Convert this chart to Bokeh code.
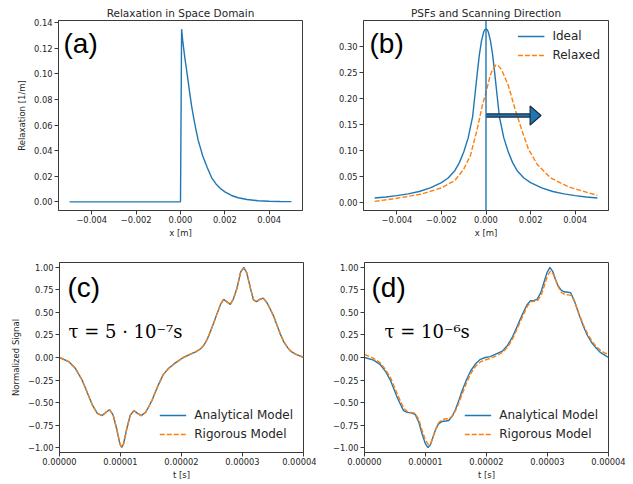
from bokeh.plotting import figure
from bokeh.models import Range1d, FixedTicker, Span, Label
from bokeh.layouts import column, row
from bokeh.embed import file_html
from bokeh.resources import INLINE

# ---------------- data ----------------
# (a) relaxation kernel in space domain
relax_x = [-0.005, -0.0001, 0.0, 0.00005, 0.0001, 0.0002, 0.0003, 0.0004, 0.0005,
           0.0006, 0.0007, 0.0008, 0.0009, 0.001, 0.0012, 0.0014, 0.0016, 0.0018,
           0.002, 0.0023, 0.0026, 0.003, 0.0035, 0.004, 0.0045, 0.005]
relax_y = [0.0, 0.0, 0.0, 0.135, 0.126, 0.112, 0.100, 0.087, 0.075,
           0.065, 0.056, 0.048, 0.042, 0.036, 0.027, 0.019, 0.014, 0.0105,
           0.0078, 0.0050, 0.0032, 0.0018, 0.0009, 0.0005, 0.0003, 0.0002]

# (b) PSFs
ideal_x = [-0.005, -0.0045, -0.004, -0.0035, -0.003, -0.0025, -0.002, -0.0017, -0.0014,
           -0.0012, -0.001, -0.0008, -0.0006, -0.0005, -0.0004, -0.0003, -0.0002, -0.0001,
           -0.00005, 0.0, 0.00005, 0.0001, 0.0002, 0.0003, 0.0004, 0.0005, 0.0006, 0.0008,
           0.001, 0.0012, 0.0014, 0.0017, 0.002, 0.0025, 0.003, 0.0035, 0.004, 0.0045, 0.005]
ideal_y = [0.0085, 0.0105, 0.013, 0.0165, 0.021, 0.028, 0.038, 0.047, 0.061,
           0.076, 0.097, 0.124, 0.165, 0.205, 0.245, 0.283, 0.311, 0.328,
           0.332, 0.333, 0.332, 0.328, 0.311, 0.283, 0.245, 0.205, 0.165, 0.124,
           0.097, 0.076, 0.061, 0.047, 0.038, 0.028, 0.021, 0.0165, 0.013, 0.0105, 0.0085]
relaxed_x = [-0.005, -0.004, -0.0029, -0.002, -0.0014, -0.001, -0.0007, -0.0004, -0.00015,
             0.0, 0.0001, 0.0002, 0.0003, 0.00045, 0.00055, 0.0007, 0.001, 0.0013,
             0.0016, 0.0019, 0.0023, 0.0029, 0.0037, 0.005]
relaxed_y = [0.002, 0.008, 0.016, 0.028, 0.042, 0.064, 0.090, 0.140, 0.189,
             0.211, 0.229, 0.245, 0.256, 0.264, 0.263, 0.255, 0.225, 0.180,
             0.140, 0.103, 0.073, 0.047, 0.030, 0.0135]

# (c) tau = 5e-7 s
t_c = [0.0, 1.5, 2.6, 3.7, 4.5, 5.4, 6.2, 7.0, 7.6, 8.2, 8.8, 9.4, 9.9, 10.2, 10.5,
       11.0, 11.6, 12.2, 12.8, 13.4, 14.1, 14.6, 15.2, 15.8, 16.3, 17.0, 17.9, 19.0,
       20.3, 21.4, 22.4, 23.2, 23.7, 24.2, 24.75, 25.3, 25.85, 26.4, 26.9, 27.4, 28.0,
       28.5, 29.1, 29.7, 30.2, 30.7, 31.3, 31.8, 32.3, 32.8, 33.4, 34.0, 34.6, 35.1,
       35.7, 36.2, 36.8, 37.4, 37.9, 38.6, 39.3, 40.0]
analytic_c = [0.0, -0.045, -0.12, -0.25, -0.38, -0.53, -0.62, -0.645, -0.61, -0.58, -0.64,
              -0.80, -0.96, -1.00, -0.96, -0.80, -0.64, -0.59, -0.62, -0.645, -0.61, -0.55,
              -0.47, -0.37, -0.29, -0.19, -0.12, -0.06, 0.0, 0.035, 0.065, 0.10, 0.14, 0.20,
              0.29, 0.39, 0.49, 0.59, 0.645, 0.62, 0.59, 0.65, 0.77, 0.95, 1.00, 0.94, 0.77,
              0.64, 0.62, 0.645, 0.66, 0.61, 0.53, 0.46, 0.35, 0.26, 0.17, 0.11, 0.07, 0.04,
              0.02, 0.0]
rigorous_c = [0.0, -0.045, -0.12, -0.25, -0.38, -0.53, -0.62, -0.645, -0.61, -0.58, -0.64,
              -0.80, -0.96, -0.995, -0.96, -0.80, -0.64, -0.59, -0.62, -0.645, -0.61, -0.55,
              -0.47, -0.37, -0.29, -0.19, -0.12, -0.06, 0.0, 0.035, 0.065, 0.10, 0.14, 0.20,
              0.29, 0.39, 0.49, 0.59, 0.645, 0.62, 0.59, 0.65, 0.77, 0.95, 0.995, 0.94, 0.77,
              0.64, 0.62, 0.645, 0.66, 0.61, 0.53, 0.46, 0.35, 0.26, 0.17, 0.11, 0.07, 0.04,
              0.02, 0.005]

# (d) tau = 1e-6 s
t_d = [0.0, 1.5, 2.6, 3.5, 4.3, 5.4, 6.4, 7.0, 7.6, 8.3, 8.9, 9.5, 10.0, 10.4, 10.8,
       11.2, 11.6, 12.1, 12.7, 13.3, 13.8, 14.4, 14.9, 15.5, 16.0, 16.7, 17.4, 18.2,
       19.0, 19.8, 20.6, 21.6, 22.6, 23.4, 24.2, 25.0, 25.85, 26.6, 27.2, 27.8, 28.3,
       28.9, 29.4, 29.9, 30.4, 30.9, 31.3, 31.7, 32.2, 32.7, 33.3, 33.8, 34.4, 35.1,
       35.8, 36.5, 37.2, 37.9, 38.6, 39.3, 40.0]
analytic_d = [0.0, -0.03, -0.08, -0.16, -0.26, -0.45, -0.59, -0.61, -0.615, -0.63, -0.72,
              -0.86, -0.96, -1.00, -0.97, -0.89, -0.81, -0.74, -0.71, -0.705, -0.70, -0.65,
              -0.58, -0.47, -0.37, -0.25, -0.15, -0.07, -0.02, 0.0, 0.01, 0.04, 0.07, 0.13,
              0.22, 0.34, 0.475, 0.58, 0.63, 0.635, 0.645, 0.72, 0.83, 0.94, 1.00, 0.95,
              0.87, 0.80, 0.75, 0.73, 0.725, 0.72, 0.63, 0.49, 0.36, 0.25, 0.17, 0.11, 0.06,
              0.03, 0.0]
t_d_rig = [0.0, 1.5, 2.6, 3.5, 4.3, 5.4, 6.4, 7.0, 7.6, 8.3, 8.9, 9.5, 10.0, 10.5, 10.9,
           11.3, 11.7, 12.2, 12.8, 13.4, 13.9, 14.5, 15.0, 15.6, 16.1, 16.8, 17.5, 18.3,
           19.1, 19.9, 20.7, 21.7, 22.7, 23.5, 24.3, 25.1, 25.95, 26.7, 27.3, 27.9, 28.4,
           29.0, 29.5, 30.0, 30.5, 31.0, 31.4, 31.8, 32.3, 32.8, 33.4, 33.9, 34.5, 35.2,
           35.9, 36.6, 37.3, 38.0, 38.7, 39.4, 40.0]
rigorous_d = [0.035, -0.01, -0.06, -0.14, -0.23, -0.41, -0.56, -0.60, -0.61, -0.62, -0.69,
              -0.82, -0.92, -0.97, -0.95, -0.87, -0.79, -0.72, -0.69, -0.68, -0.68, -0.64,
              -0.58, -0.48, -0.39, -0.27, -0.17, -0.09, -0.045, -0.025, -0.01, 0.02, 0.06,
              0.12, 0.21, 0.33, 0.46, 0.57, 0.62, 0.625, 0.635, 0.70, 0.80, 0.91, 0.96, 0.92,
              0.85, 0.78, 0.72, 0.70, 0.695, 0.69, 0.61, 0.48, 0.36, 0.26, 0.18, 0.12, 0.08,
              0.05, 0.035]

# tick values and labels
xt_space = [-0.004, -0.002, 0.0, 0.002, 0.004]
xt_space_lab = ["\u22120.004", "\u22120.002", "0.000", "0.002", "0.004"]
yt_a = [0.0, 0.02, 0.04, 0.06, 0.08, 0.10, 0.12, 0.14]
yt_a_lab = ["0.00", "0.02", "0.04", "0.06", "0.08", "0.10", "0.12", "0.14"]
yt_b = [0.0, 0.05, 0.10, 0.15, 0.20, 0.25, 0.30]
yt_b_lab = ["0.00", "0.05", "0.10", "0.15", "0.20", "0.25", "0.30"]
xt_time = [0.0, 1e-5, 2e-5, 3e-5, 4e-5]
xt_time_lab = ["0.00000", "0.00001", "0.00002", "0.00003", "0.00004"]
yt_sig = [-1.0, -0.75, -0.5, -0.25, 0.0, 0.25, 0.5, 0.75, 1.0]
yt_sig_lab = ["\u22121.00", "\u22120.75", "\u22120.50", "\u22120.25", "0.00", "0.25", "0.50", "0.75", "1.00"]

# scanning-direction arrow (data units)
arrow_x0, arrow_x1, arrow_y = 0.0, 0.00247, 0.167
arrow_head_len, arrow_head_half = 0.00049, 0.0183

# ---------------- styling ----------------
C0 = "#1f77b4"
C1 = "#ff7f0e"
TXT = "#262626"
SPINE = "#3a3a3a"
FONT = "DejaVu Sans"
DASH = "5 2"
LW = 1.4
FW, FH = 244, 190  # frame size


def style(p, xt, xl, yt, yl, xlabel, ylabel=None):
    p.grid.visible = False
    p.outline_line_color = SPINE
    p.outline_line_width = 1
    p.background_fill_color = "white"
    p.border_fill_color = "white"
    for ax in (p.xaxis[0], p.yaxis[0]):
        ax.axis_line_color = SPINE
        ax.major_tick_line_color = SPINE
        ax.major_tick_in = 0
        ax.major_tick_out = 4
        ax.minor_tick_line_color = None
        ax.major_label_text_font = FONT
        ax.major_label_text_font_size = "8.3px"
        ax.major_label_text_color = TXT
        ax.axis_label_text_font = FONT
        ax.axis_label_text_font_size = "8.5px"
        ax.axis_label_text_font_style = "normal"
        ax.axis_label_text_color = TXT
    p.xaxis.ticker = FixedTicker(ticks=xt)
    p.xaxis.major_label_overrides = dict(zip(xt, xl))
    p.yaxis.ticker = FixedTicker(ticks=yt)
    p.yaxis.major_label_overrides = dict(zip(yt, yl))
    p.xaxis.major_label_standoff = 1
    p.yaxis.major_label_standoff = 2
    p.xaxis.axis_label = xlabel
    p.xaxis.axis_label_standoff = 2
    if ylabel:
        p.yaxis.axis_label = ylabel
        p.yaxis.axis_label_standoff = 4


def set_title(p, text):
    p.title.text = text
    p.title.align = "center"
    p.title.text_font = FONT
    p.title.text_font_size = "10.5px"
    p.title.text_font_style = "normal"
    p.title.text_color = TXT
    p.title.standoff = 3


def px_x(rng, px):
    return rng[0] + px / FW * (rng[1] - rng[0])


def px_y(rng, px_from_top):
    return rng[1] - px_from_top / FH * (rng[1] - rng[0])


def big_label(p, xr, yr, px, py, text):
    p.add_layout(Label(x=px_x(xr, px), y=px_y(yr, py), text=text,
                       text_font="Liberation Sans", text_font_size="28px",
                       text_color="black", text_baseline="middle", text_align="left"))


def style_legend(p, loc, margin, padding):
    lg = p.legend[0]
    lg.location = loc
    lg.label_text_font = FONT
    lg.label_text_font_size = "12px"
    lg.label_text_color = TXT
    lg.glyph_width = 27
    lg.glyph_height = 16
    lg.label_height = 16
    lg.label_standoff = 8
    lg.spacing = 3
    lg.padding = padding
    lg.margin = margin
    lg.border_line_alpha = 0
    lg.background_fill_alpha = 0


# ---------------- (a) ----------------
xr_sp = (-0.0055, 0.0055)
yr_a = (-0.00675, 0.14175)
pa = figure(width=316, height=240, x_range=Range1d(*xr_sp), y_range=Range1d(*yr_a),
            output_backend="svg", toolbar_location=None,
            min_border_left=58, min_border_right=14, min_border_top=20, min_border_bottom=30)
pa.line(relax_x, relax_y, line_color=C0, line_width=LW)
style(pa, xt_space, xt_space_lab, yt_a, yt_a_lab, "x [m]", "Relaxation [1/m]")
set_title(pa, "Relaxation in Space Domain")
big_label(pa, xr_sp, yr_a, 5, 23, "(a)")

# ---------------- (b) ----------------
yr_b = (-0.0155, 0.3496)
pb = figure(width=317, height=240, x_range=Range1d(*xr_sp), y_range=Range1d(*yr_b),
            output_backend="svg", toolbar_location=None,
            min_border_left=47, min_border_right=25, min_border_top=20, min_border_bottom=30)
pb.line(ideal_x, ideal_y, line_color=C0, line_width=LW, legend_label="Ideal")
pb.line(relaxed_x, relaxed_y, line_color=C1, line_width=LW, line_dash=DASH,
        legend_label="Relaxed")
pb.add_layout(Span(location=0.0, dimension="height", line_color=C0, line_width=LW))
shaft_end = arrow_x1 - arrow_head_len
pb.segment(x0=[arrow_x0], y0=[arrow_y], x1=[shaft_end], y1=[arrow_y],
           line_color="#1b2b3c", line_width=4.5)
pb.segment(x0=[arrow_x0], y0=[arrow_y], x1=[shaft_end], y1=[arrow_y],
           line_color=C0, line_width=2)
pb.patch([shaft_end, shaft_end, arrow_x1],
         [arrow_y - arrow_head_half, arrow_y + arrow_head_half, arrow_y],
         fill_color=C0, line_color="#1b2b3c", line_width=1.2)
style(pb, xt_space, xt_space_lab, yt_b, yt_b_lab, "x [m]")
set_title(pb, "PSFs and Scanning Direction")
style_legend(pb, "top_right", 4, 4)
big_label(pb, xr_sp, yr_b, 6, 23, "(b)")

# ---------------- (c) ----------------
xr_t = (0.0, 4e-5)
yr_s = (-1.055, 1.055)
t_c_s = [v * 1e-6 for v in t_c]
t_d_s = [v * 1e-6 for v in t_d]
t_d_rig_s = [v * 1e-6 for v in t_d_rig]

pc = figure(width=316, height=244, x_range=Range1d(*xr_t), y_range=Range1d(*yr_s),
            output_backend="svg", toolbar_location=None,
            min_border_left=59, min_border_right=13, min_border_top=22, min_border_bottom=32)
pc.line(t_c_s, analytic_c, line_color=C0, line_width=LW, legend_label="Analytical Model")
pc.line(t_c_s, rigorous_c, line_color=C1, line_width=LW, line_dash=DASH,
        legend_label="Rigorous Model")
style(pc, xt_time, xt_time_lab, yt_sig, yt_sig_lab, "t [s]", "Normalized Signal")
style_legend(pc, "bottom_right", 5, 5)
big_label(pc, xr_t, yr_s, 8, 25, "(c)")
pc.add_layout(Label(x=px_x(xr_t, 9), y=px_y(yr_s, 69), text="\u03c4 = 5 \u00b7 10\u207b\u2077s",
                    text_font="DejaVu Serif", text_font_size="18px", text_color="black",
                    text_baseline="middle", text_align="left"))

# ---------------- (d) ----------------
pd_ = figure(width=317, height=244, x_range=Range1d(*xr_t), y_range=Range1d(*yr_s),
             output_backend="svg", toolbar_location=None,
             min_border_left=48, min_border_right=25, min_border_top=22, min_border_bottom=32)
pd_.line(t_d_s, analytic_d, line_color=C0, line_width=LW, legend_label="Analytical Model")
pd_.line(t_d_rig_s, rigorous_d, line_color=C1, line_width=LW, line_dash=DASH,
         legend_label="Rigorous Model")
style(pd_, xt_time, xt_time_lab, yt_sig, yt_sig_lab, "t [s]")
style_legend(pd_, "bottom_right", 5, 5)
big_label(pd_, xr_t, yr_s, 7, 25, "(d)")
pd_.add_layout(Label(x=px_x(xr_t, 20), y=px_y(yr_s, 69), text="\u03c4 = 10\u207b\u2076s",
                     text_font="DejaVu Serif", text_font_size="18px", text_color="black",
                     text_baseline="middle", text_align="left"))

layout = column(row(pa, pb), row(pc, pd_))
open("out.html", "w").write(file_html(layout, INLINE))
